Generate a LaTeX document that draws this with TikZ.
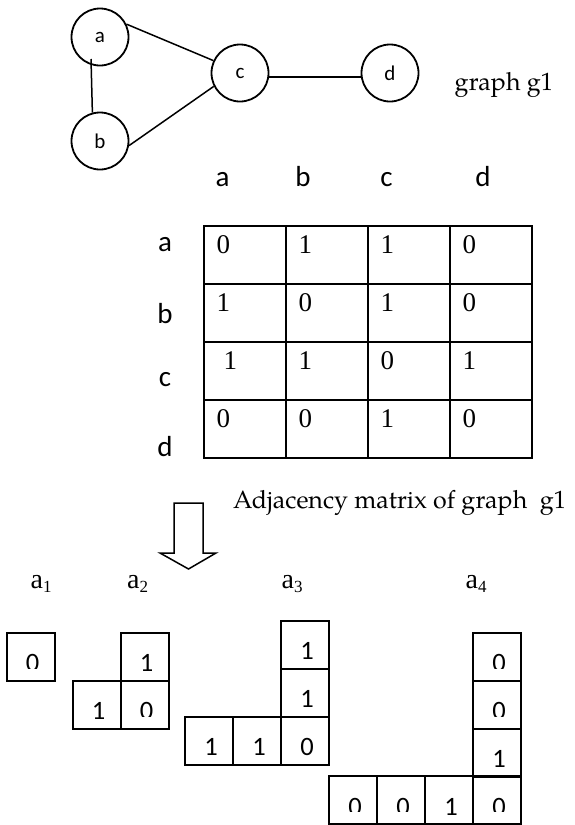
\documentclass[tikz,border=0pt]{standalone}
\usepackage{fontspec}
\setmainfont{Liberation Serif}
\newfontfamily\calib{Carlito}
\newfontfamily\pala{texgyrepagella-regular.otf}
\usetikzlibrary{calc}

\tikzset{
  vertex/.style={circle, draw, line width=1.8pt, minimum size=57pt, inner sep=0pt,
                 font=\calib\fontsize{21}{24}\selectfont},
  edge/.style={line width=1.5pt},
  mcell/.style={draw, line width=2pt, minimum width=82pt, minimum height=58pt,
                inner sep=0pt, outer sep=0pt},
  mdig/.style={anchor=base west, inner sep=0pt, font=\fontsize{27}{30}\selectfont},
  hlab/.style={anchor=base, inner sep=0pt, font=\calib\fontsize{29}{32}\selectfont},
  bcell/.style={draw, line width=2pt, minimum size=48pt, inner sep=0pt, outer sep=0pt},
  bdig/.style={anchor=base, inner sep=0pt, font=\calib\fontsize{26.5}{30}\selectfont},
  pal/.style={anchor=base west, inner sep=0pt, font=\pala\fontsize{25}{30}\selectfont},
  alab/.style={anchor=base west, inner sep=0pt, font=\fontsize{28}{32}\selectfont},
  blockarrow/.style={draw, line width=1.5pt, line join=miter},
}

% one square of the split rows: name, left, top, digit, depth of the visible part
\newcommand\digitcell[5]{%
  \node[bcell] (#1) at ({#2+24},{#3+24}) {};
  \begin{scope}
    \clip ({#2},{#3}) rectangle ({#2+48},{#3+#5});
    \node[bdig] (#1v) at ({#2+26},{#3+39}) {#4};
  \end{scope}}
\newcommand\sublab[1]{a\raisebox{-4pt}{\fontsize{17}{20}\selectfont #1}}

\begin{document}
\begin{tikzpicture}[x=1pt, y=-1pt]
  \useasboundingbox (0,0) rectangle (574,825);

  % graph g1
  \node[vertex] (a) at (100,37)  {a};
  \node[vertex] (b) at (100,141) {b};
  \node[vertex] (c) at (240,73)  {c};
  \node[vertex] (d) at (390,73)  {d};
  \draw[edge] ([shift={(-9,22)}]a.center) -- (b.105);
  \draw[edge] (a.26) -- (c.155);
  \draw[edge] (b.-9) -- (c.207);
  \draw[edge] (c.-8) -- (d.188);
  \node[pal] (g1) at (454.5,90) {graph g1};

  % adjacency matrix
  \node[hlab] (ha) at (222.5,186.7) {a};
  \node[hlab] (hb) at (303,186.7)   {b};
  \node[hlab] (hc) at (386.5,186.7) {c};
  \node[hlab] (hd) at (483,186.7)   {d};
  \node[hlab] (la) at (165,251.7) {a};
  \node[hlab] (lb) at (165,323.3) {b};
  \node[hlab] (lc) at (165,386.7) {c};
  \node[hlab] (ld) at (165,456.7) {d};

  \foreach \r/\c/\v/\dx in {1/1/0/0,1/2/1/0,1/3/1/0,1/4/0/0,
                            2/1/1/0,2/2/0/0,2/3/1/0,2/4/0/0,
                            3/1/1/7,3/2/1/0,3/3/0/0,3/4/1/0,
                            4/1/0/0,4/2/0/0,4/3/1/0,4/4/0/0}{
    \node[mcell] (m\r\c) at ({204+82*(\c-1)+41},{226+58*(\r-1)+29}) {};
    \node[mdig] (v\r\c) at ({204+82*(\c-1)+12.5+\dx},{226+58*(\r-1)+27.5}) {\v};
  }

  \node[pal] (cap) at (233,508) {Adjacency matrix of graph~~g1};

  % block arrow
  \draw[blockarrow] (174,503) -- (174,553) -- (160,553) -- (188.5,569)
        -- (216,553) -- (203,553) -- (203,503) -- cycle;

  % rows split off the matrix
  \node[alab] (t1) at (30.5,588.3)  {\sublab{1}};
  \node[alab] (t2) at (127,588.3)   {\sublab{2}};
  \node[alab] (t3) at (281.5,588.3) {\sublab{3}};
  \node[alab] (t4) at (465.5,588.3) {\sublab{4}};

  \digitcell{p1}{6.7}{632.7}{0}{35.5}

  \digitcell{q1}{120.7}{632.7}{1}{42}
  \digitcell{q2}{72.7}{680.7}{1}{42}
  \digitcell{q3}{120.7}{680.7}{0}{35.5}

  \digitcell{r1}{281}{620.7}{1}{42}
  \digitcell{r2}{281}{668.7}{1}{42}
  \digitcell{r3}{185}{716.7}{1}{42}
  \digitcell{r4}{233}{716.7}{1}{42}
  \digitcell{r5}{281}{716.7}{0}{42}

  \digitcell{s1}{473}{632.7}{0}{35.5}
  \digitcell{s2}{473}{680.7}{0}{35.5}
  \digitcell{s3}{473}{728.7}{1}{42}
  \digitcell{s4}{329}{776}{0}{35.5}
  \digitcell{s5}{377}{776}{0}{35.5}
  \digitcell{s6}{425}{776}{1}{42}
  \digitcell{s7}{473}{776}{0}{35.5}
\end{tikzpicture}
\end{document}
